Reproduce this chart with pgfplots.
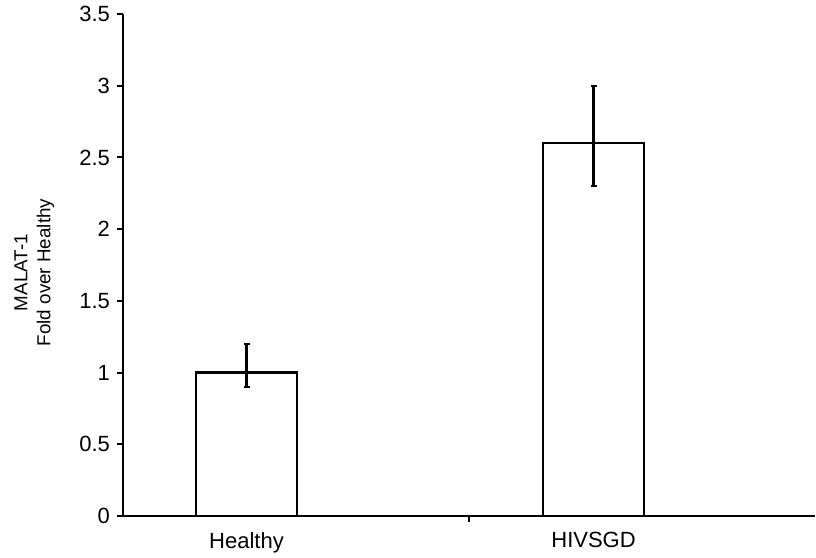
\documentclass[border=0pt]{standalone}
\usepackage{pgfplots}
\pgfplotsset{compat=1.18}
\usepackage{fontspec}
\setmainfont{Liberation Sans}
\begin{document}
\begin{tikzpicture}
\begin{axis}[
  scale only axis, width=346pt, height=251pt,
  xmin=0, xmax=2, ymin=0, ymax=3.5,
  axis x line*=bottom, axis y line*=left,
  axis line style={line width=1pt},
  every tick/.style={black, line width=1pt},
  tick align=outside, major tick length=3pt,
  ytick={0,0.5,1,1.5,2,2.5,3,3.5},
  yticklabels={0,0.5,1,1.5,2,2.5,3,3.5},
  xtick={1}, xticklabels={},
  extra x ticks={0.357,1.36},
  extra x tick labels={Healthy,HIVSGD},
  extra x tick style={major tick length=0pt, xticklabel style={yshift=-4.5pt}},
  tick label style={font=\fontsize{11}{13}\selectfont},
  /pgf/number format/assume math mode=true,
  ylabel={MALAT-1\\Fold over Healthy},
  ylabel style={align=center, font=\fontsize{9.4}{11.5}\selectfont, at={(axis description cs:-0.128,0.485)}, anchor=center},
]
\addplot[ybar, bar width=0.292, fill=white, draw=black, line width=1.1pt,
  error bars/.cd, y dir=both, y explicit,
  error bar style={line width=1.1pt},
  error mark options={rotate=90, mark size=1.5pt, line width=1.1pt}]
  coordinates {
    (0.357,1.0) += (0,0.2) -= (0,0.1)
    (1.36,2.6) += (0,0.4) -= (0,0.3)
  };
\end{axis}
\pgfresetboundingbox
\path[use as bounding box] ([shift={(-61.5pt,-20.5pt)}]current axis.south west) rectangle ([shift={(0.5pt,7pt)}]current axis.north east);
\end{tikzpicture}
\end{document}
